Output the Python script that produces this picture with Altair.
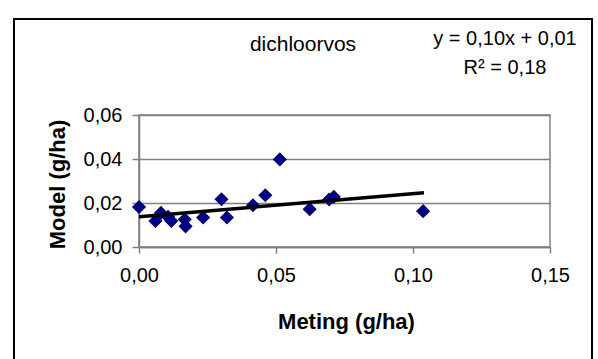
import altair as alt
import pandas as pd

meting = [0.0000, 0.0060, 0.0080, 0.0106, 0.0118, 0.0167, 0.0170, 0.0234, 0.0301,
          0.0321, 0.0416, 0.0461, 0.0514, 0.0623, 0.0694, 0.0711, 0.1037]
model = [0.0182, 0.0118, 0.0155, 0.0137, 0.0118, 0.0125, 0.0094, 0.0134, 0.0217,
         0.0134, 0.0190, 0.0235, 0.0398, 0.0172, 0.0216, 0.0228, 0.0163]

trend_x = [0.0, 0.1040]
trend_y = [0.0137, 0.0247]

x_ticks = [0.0, 0.05, 0.10, 0.15]
y_ticks = [0.0, 0.02, 0.04, 0.06]

title_text = "dichloorvos"
eq_lines = ["y = 0,10x + 0,01", "R² = 0,18"]

pts = pd.DataFrame({"Meting": meting, "Model": model})
trend = pd.DataFrame({"Meting": trend_x, "Model": trend_y})

FONT = "Liberation Sans"
label_expr = "replace(format(datum.value, '.2f'), '.', ',')"

xs = alt.Scale(domain=[0, 0.15], nice=False, zero=False)
ys = alt.Scale(domain=[0, 0.06], nice=False, zero=False)

x_axis = alt.Axis(values=x_ticks, labelExpr=label_expr, grid=False, labelFlush=False,
                  title="Meting (g/ha)", titleFont=FONT, titleFontSize=22,
                  titleFontWeight="bold", titleColor="black",
                  titleX=207, titleY=81, titleBaseline="alphabetic", titleAlign="center",
                  labelFont=FONT, labelFontSize=20, labelColor="black",
                  labelPadding=12, tickSize=6, tickColor="#808080", tickWidth=1.5,
                  domain=True, domainColor="#808080", domainWidth=1.5)
y_axis = alt.Axis(values=y_ticks, labelExpr=label_expr, grid=True, labelFlush=False,
                  gridColor="#808080", gridWidth=1.5,
                  title="Model (g/ha)", titleFont=FONT, titleFontSize=22,
                  titleFontWeight="bold", titleColor="black",
                  titleX=-82, titleY=69, titleBaseline="middle", titleAlign="center",
                  titleAngle=270,
                  labelFont=FONT, labelFontSize=20, labelColor="black",
                  labelPadding=10, tickSize=7, tickColor="#808080", tickWidth=1.5,
                  domain=True, domainColor="#808080", domainWidth=1.5)

points = alt.Chart(pts).mark_point(shape="diamond", filled=True, size=200,
                                   color="#000080", opacity=1).encode(
    x=alt.X("Meting:Q", scale=xs, axis=x_axis),
    y=alt.Y("Model:Q", scale=ys, axis=y_axis),
)

line = alt.Chart(trend).mark_line(color="black", strokeWidth=3.5).encode(
    x=alt.X("Meting:Q", scale=xs),
    y=alt.Y("Model:Q", scale=ys),
)

frame = alt.Chart(pd.DataFrame({"a": [0]})).mark_rect(
    fill=None, stroke="black", strokeWidth=2, clip=False).encode(
    x=alt.value(-125), x2=alt.value(453), y=alt.value(-96), y2=alt.value(280))

title = alt.Chart(pd.DataFrame({"t": [title_text]})).mark_text(
    font=FONT, fontSize=21, color="black", align="center", baseline="alphabetic").encode(
    text="t:N", x=alt.value(164), y=alt.value(-64))

eq1 = alt.Chart(pd.DataFrame({"t": [eq_lines[0]]})).mark_text(
    font=FONT, fontSize=20, color="black", align="center", baseline="alphabetic").encode(
    text="t:N", x=alt.value(366), y=alt.value(-70))
eq2 = alt.Chart(pd.DataFrame({"t": [eq_lines[1]]})).mark_text(
    font=FONT, fontSize=20, color="black", align="center", baseline="alphabetic").encode(
    text="t:N", x=alt.value(366), y=alt.value(-41))

chart = alt.layer(frame, points, line, title, eq1, eq2).properties(
    width=411, height=132,
    autosize=alt.AutoSizeParams(type="none"),
    padding={"left": 139, "top": 115, "right": 48, "bottom": 112},
    background="white",
).configure_view(stroke="#808080", strokeWidth=1.5)

chart.save("out.html", embed_options={"renderer": "svg", "actions": False})
